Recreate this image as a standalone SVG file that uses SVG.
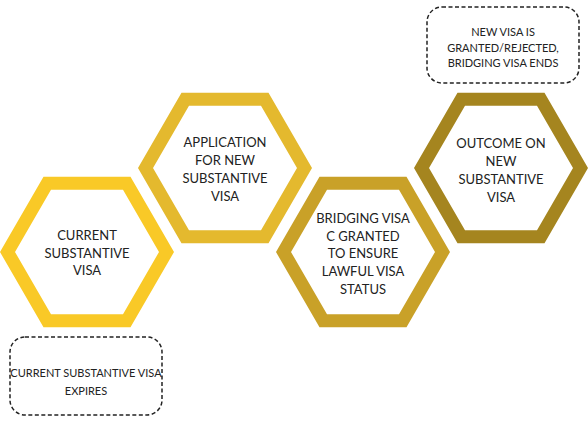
<svg xmlns="http://www.w3.org/2000/svg" width="588" height="422" viewBox="0 0 588 422">
<style>
.hex{fill:#fff;stroke-width:13;stroke-linejoin:miter}
.t{font-family:Lato,"Liberation Sans",sans-serif;font-size:13px;fill:#222;text-anchor:middle}
.bt{font-family:Lato,"Liberation Sans",sans-serif;font-size:11px;fill:#222;text-anchor:middle}
.box{fill:#fff;stroke:#222;stroke-width:1.5;stroke-dasharray:4 2.5}
</style>
<defs>
<polygon id="hx" points="-79.5,0 -39.75,-68.85 39.75,-68.85 79.5,0 39.75,68.85 -39.75,68.85"/>
</defs>
<rect width="588" height="422" fill="#fff"/>
<g id="hex1" transform="translate(87,252)">
<use href="#hx" class="hex" stroke="#F9C927"/>
<text class="t" x="0" y="-12">CURRENT</text>
<text class="t" x="0" y="5.5">SUBSTANTIVE</text>
<text class="t" x="0" y="23">VISA</text>
</g>
<g id="hex2" transform="translate(225,168)">
<use href="#hx" class="hex" stroke="#E4B92E"/>
<text class="t" x="0" y="-21">APPLICATION</text>
<text class="t" x="0" y="-3">FOR NEW</text>
<text class="t" x="0" y="15">SUBSTANTIVE</text>
<text class="t" x="0" y="33">VISA</text>
</g>
<g id="hex3" transform="translate(363,252)">
<use href="#hx" class="hex" stroke="#C9A128"/>
<text class="t" x="0" y="-29">BRIDGING VISA</text>
<text class="t" x="0" y="-11.5">C GRANTED</text>
<text class="t" x="0" y="6">TO ENSURE</text>
<text class="t" x="0" y="24">LAWFUL VISA</text>
<text class="t" x="0" y="42">STATUS</text>
</g>
<g id="hex4" transform="translate(501,168)">
<use href="#hx" class="hex" stroke="#A5851F"/>
<text class="t" x="0" y="-20">OUTCOME ON</text>
<text class="t" x="0" y="-2">NEW</text>
<text class="t" x="0" y="16">SUBSTANTIVE</text>
<text class="t" x="0" y="34">VISA</text>
</g>
<g id="note-top">
<rect class="box" x="427" y="7" width="152" height="76" rx="15"/>
<text class="bt" x="503" y="36">NEW VISA IS</text>
<text class="bt" x="503" y="52">GRANTED/REJECTED,</text>
<text class="bt" x="503" y="67">BRIDGING VISA ENDS</text>
</g>
<g id="note-bottom">
<rect class="box" x="10" y="337" width="152" height="78" rx="15"/>
<text class="bt" x="86" y="377">CURRENT SUBSTANTIVE VISA</text>
<text class="bt" x="86" y="395">EXPIRES</text>
</g>
<g id="connectors"></g>
</svg>
